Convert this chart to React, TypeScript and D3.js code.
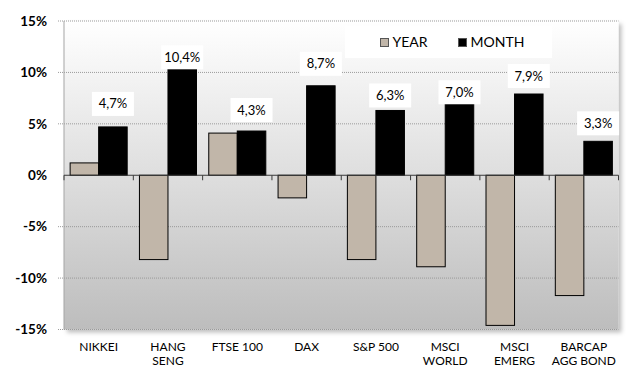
import React from "react";
import * as d3 from "d3";

const categories = ["NIKKEI", "HANG SENG", "FTSE 100", "DAX", "S&P 500", "MSCI WORLD", "MSCI EMERG", "BARCAP AGG BOND"];
const series = ["YEAR", "MONTH"];
const yearValues = [1.2, -8.2, 4.1, -2.2, -8.2, -8.9, -14.6, -11.7];
const monthValues = [4.7, 10.4, 4.3, 8.7, 6.3, 7.0, 7.9, 3.3];
const yTicks = [-15, -10, -5, 0, 5, 10, 15];
// label nudges (px above bar top) as laid out in the source
const labelGaps = [23, 11, 21, 22, 15, 11, 18, 18];

const W = 626, H = 369;
const plot = { left: 64, right: 618.5, top: 21, bottom: 329.5 };
const FONT = "Lato, 'Open Sans', sans-serif";
const colors: Record<string, string> = { YEAR: "#c1b6a9", MONTH: "#000000" };

function wrap(s: string, max = 8): string[] {
  const words = s.split(" ");
  const lines: string[] = [];
  let cur = "";
  for (const w of words) {
    const t = cur ? cur + " " + w : w;
    if (t.length > max && cur) { lines.push(cur); cur = w; } else cur = t;
  }
  if (cur) lines.push(cur);
  return lines;
}

export default function App() {
  const x0 = d3.scaleBand<string>().domain(categories).range([plot.left, plot.right]).padding(0);
  const x1 = d3.scaleBand<string>().domain(series).range([0, x0.bandwidth()]).paddingInner(0).paddingOuter(0.215);
  const y = d3.scaleLinear().domain([-15, 15]).range([plot.bottom, plot.top]);
  const fmt = (v: number) => d3.format(".1f")(v).replace(".", ",") + "%";
  const vals: Record<string, number[]> = { YEAR: yearValues, MONTH: monthValues };

  return (
    <svg width={W} height={H} style={{ display: "block", position: "absolute", left: 0, top: 0, background: "#fff" }}>
      <defs>
        <linearGradient id="bg" x1="0" y1="0" x2="0" y2="1">
          <stop offset="0" stopColor="#ffffff" />
          <stop offset="1" stopColor="#bdbdbd" />
        </linearGradient>
        <filter id="sh" x="-5%" y="-5%" width="115%" height="115%">
          <feDropShadow dx="3" dy="3" stdDeviation="2" floodColor="#000" floodOpacity="0.25" />
        </filter>
      </defs>
      <rect x={plot.left} y={plot.top} width={plot.right - plot.left} height={plot.bottom - plot.top} fill="url(#bg)" filter="url(#sh)" />
      {yTicks.map((t) => (
        <g key={t}>
          {t !== 0 && (
            <line x1={plot.left - 6} x2={plot.right} y1={y(t)} y2={y(t)} stroke="#9a9a9a" strokeWidth={1} strokeDasharray="1,1" />
          )}
          <text x={47} y={y(t)} dy="0.35em" textAnchor="end" fontFamily={FONT} fontWeight="bold" fontSize={13.5} fill="#000">
            {t}%
          </text>
        </g>
      ))}
      <line x1={plot.left} x2={plot.left} y1={plot.top} y2={plot.bottom} stroke="#a6a6a6" strokeWidth={1} />
      {/* legend */}
      <rect x={345} y={26} width={207} height={32} fill="#fff" />
      {categories.map((c, i) => (
        <g key={c}>
          {series.map((s) => {
            const v = vals[s][i];
            const bx = (x0(c) as number) + (x1(s) as number);
            return (
              <rect key={s} x={bx} y={y(Math.max(0, v))} width={x1.bandwidth()} height={Math.abs(y(v) - y(0))}
                fill={colors[s]} stroke="#000" strokeWidth={1} />
            );
          })}
        </g>
      ))}
      <line x1={plot.left} x2={plot.right} y1={y(0)} y2={y(0)} stroke="#3a3a3a" strokeWidth={1} />
      {categories.map((c, i) => {
        const xb = x0(c) as number;
        return <line key={"t" + i} x1={xb + x0.bandwidth()} x2={xb + x0.bandwidth()} y1={y(0)} y2={y(0) + 5} stroke="#3a3a3a" />;
      })}
      <line x1={plot.left} x2={plot.left} y1={y(0)} y2={y(0) + 5} stroke="#3a3a3a" />
      {categories.map((c, i) => {
        const v = monthValues[i];
        const cx = (x0(c) as number) + (x1("MONTH") as number) + x1.bandwidth() / 2;
        const cy = y(v) - labelGaps[i];
        return (
          <g key={"l" + c}>
            <rect x={cx - 21} y={cy - 12} width={42} height={24} fill="#fff" />
            <text x={cx} y={cy} dy="0.35em" textAnchor="middle" fontFamily={FONT} fontSize={13} fill="#000">{fmt(v)}</text>
          </g>
        );
      })}
      {categories.map((c) => {
        const cx = (x0(c) as number) + x0.bandwidth() / 2;
        return (
          <text key={"c" + c} x={cx} y={351} textAnchor="middle" fontFamily={FONT} fontSize={12} fill="#000">
            {wrap(c).map((ln, j) => (
              <tspan key={j} x={cx} dy={j === 0 ? 0 : 14}>{ln}</tspan>
            ))}
          </text>
        );
      })}
      {series.map((s, i) => {
        const lx = i === 0 ? 380.5 : 458.5;
        return (
          <g key={"lg" + s}>
            <rect x={lx} y={38.5} width={8} height={8} fill={colors[s]} stroke="#555" strokeWidth={1} />
            <text x={lx + 12} y={47} fontFamily={FONT} fontSize={14} fill="#000">{s}</text>
          </g>
        );
      })}
    </svg>
  );
}
